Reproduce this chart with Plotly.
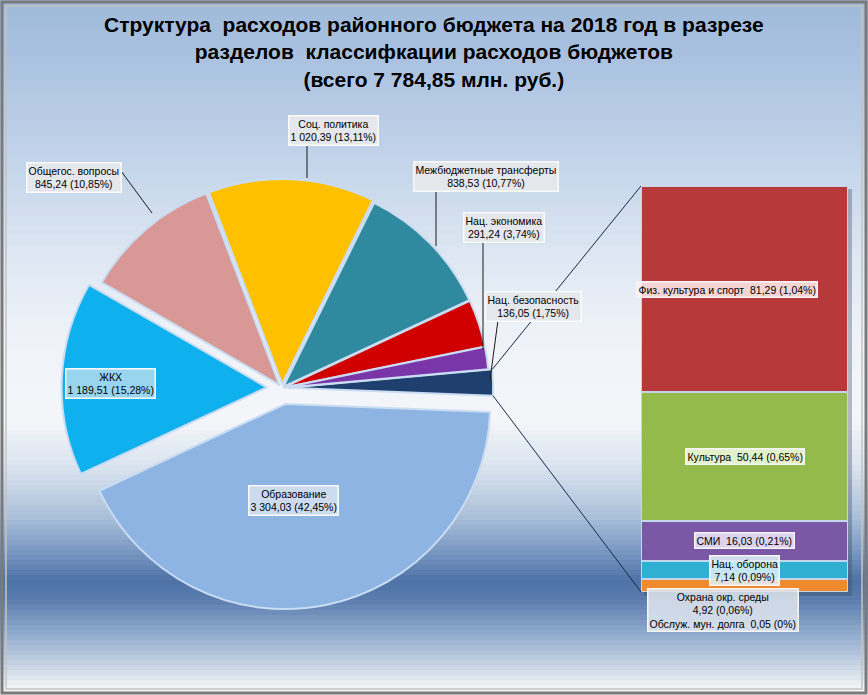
import math
import numpy as np
import plotly.graph_objects as go

W, H = 868, 695

# ---------------- data ----------------
total_budget = 7784.85

pie_labels = ["Образование", "ЖКХ", "Общегос. вопросы", "Соц. политика",
              "Межбюджетные трансферты", "Нац. экономика", "Нац. безопасность"]
pie_values = [3304.03, 1189.51, 845.24, 1020.39, 838.53, 291.24, 136.05]
pie_shares = [42.45, 15.28, 10.85, 13.11, 10.77, 3.74, 1.75]

bar_labels = ["Обслуж. мун. долга", "Охрана окр. среды", "Нац. оборона", "СМИ",
              "Культура", "Физ. культура и спорт"]
bar_values = [0.05, 4.92, 7.14, 16.03, 50.44, 81.29]
bar_shares = [0, 0.06, 0.09, 0.21, 0.65, 1.04]

title_lines = ["Структура  расходов районного бюджета на 2018 год в разрезе",
               "разделов  классифкации расходов бюджетов",
               "(всего 7 784,85 млн. руб.)"]

# ---------------- styles ----------------
FONT_T = "Liberation Sans, Arial, sans-serif"
FONT = "Liberation Sans, Arial, sans-serif"
FS = 10.5
other_color = "#1f3f6e"
pie_colors = ["#8db4e2", "#0fb0ee", "#d79896", "#ffc000", "#2f8aa0", "#d00000", "#7a35a8"]
bar_colors = ["#f79646", "#f08a2c", "#2fb0d2", "#7b58a6", "#94ba4c", "#b8393a"]
other_pull = 0.03
pie_pulls = [0.08, 0.075, 0.02, 0.02, 0.01, 0.01, 0.01]


def fmt_num(v):
    s = f"{v:,.2f}".replace(",", " ").replace(".", ",")
    return s


def fmt_pct(p):
    if p == 0:
        return "0%"
    return f"{p:.2f}".replace(".", ",") + "%"


def px(x):
    return x / W


def py(y):
    return 1 - y / H


other_value = sum(bar_values)
all_values = [other_value] + pie_values
all_colors = [other_color] + pie_colors
all_pulls = [other_pull] + pie_pulls

# pie geometry (pixels)
CX, CY, R = 282, 388, 205
maxp = max(all_pulls)
half = R * (1 + maxp)
dom_x = [px(CX - half), px(CX + half)]
dom_y = [py(CY + half), py(CY - half)]

tot = sum(all_values)
a_other = 360 * other_value / tot
rotation = 92.2 - a_other  # clockwise from 12 o'clock

fig = go.Figure()

# ---------------- background gradient ----------------
stops = [(0, "#9fb9da"), (60, "#aac2e0"), (150, "#c0d2e9"), (250, "#dce6f2"),
         (330, "#eef2f8"), (420, "#f4f6f9"), (470, "#d8e2ee"), (520, "#a6bcd8"),
         (560, "#6d8ebb"), (580, "#4e72a6"), (600, "#5b7dae"), (630, "#8ba6ca"),
         (660, "#bdcce0"), (685, "#eef0f3"), (695, "#f6f6f6")]


def hex2rgb(h):
    h = h.lstrip("#")
    return [int(h[i:i + 2], 16) for i in (0, 2, 4)]


sy = np.array([s[0] for s in stops], float)
sc = np.array([hex2rgb(s[1]) for s in stops], float)
shapes = []
step = 5
for y0 in range(0, H, step):
    ym = y0 + step / 2
    c = [int(round(np.interp(ym, sy, sc[:, k]))) for k in range(3)]
    shapes.append(dict(type="rect", xref="paper", yref="paper",
                       x0=0, x1=1, y0=py(min(y0 + step, H)), y1=py(y0),
                       fillcolor=f"rgb({c[0]},{c[1]},{c[2]})",
                       line=dict(width=0), layer="below"))

# bar geometry (pixels)
BX0, BX1, BY0, BY1 = 641, 848, 186, 592
# bar shadow
shapes.append(dict(type="rect", xref="paper", yref="paper",
                   x0=px(BX0 + 3), x1=px(BX1 + 4), y0=py(BY1 + 4), y1=py(BY0 + 3),
                   fillcolor="rgba(60,70,90,0.35)", line=dict(width=0), layer="below"))

# frame
shapes.append(dict(type="rect", xref="paper", yref="paper",
                   x0=px(2), x1=px(W - 2), y0=py(H - 2), y1=py(2),
                   line=dict(color="#7a7a7a", width=3), fillcolor="rgba(0,0,0,0)"))
shapes.append(dict(type="rect", xref="paper", yref="paper",
                   x0=px(6), x1=px(W - 6), y0=py(H - 6), y1=py(6),
                   line=dict(color="#c4c4c4", width=1.5), fillcolor="rgba(0,0,0,0)"))

# ---------------- pie ----------------
fig.add_trace(go.Pie(
    values=all_values, labels=["Прочие"] + pie_labels,
    marker=dict(colors=all_colors, line=dict(color="#c9dcf2", width=2)),
    pull=all_pulls, sort=False, direction="clockwise", rotation=rotation,
    textinfo="none", hoverinfo="label+value", showlegend=False,
    domain=dict(x=dom_x, y=dom_y)))

# connector lines from "other" slice to bar
th1 = math.radians(rotation)
th2 = math.radians(rotation + a_other)
thm = (th1 + th2) / 2
offx, offy = other_pull * R * math.sin(thm), -other_pull * R * math.cos(thm)
p_up = (CX + offx + R * math.sin(th1), CY + offy - R * math.cos(th1))
p_dn = (CX + offx + R * math.sin(th2), CY + offy - R * math.cos(th2))
for (sx, sy_), (ex, ey) in [(p_up, (BX0, BY0)), (p_dn, (BX0, BY1))]:
    shapes.append(dict(type="line", xref="paper", yref="paper",
                       x0=px(sx), y0=py(sy_), x1=px(ex), y1=py(ey),
                       line=dict(color="#15284a", width=1)))

# leader lines for pie labels (pixels)
leaders = [((121, 171), (152, 213)), ((307, 146), (307, 178)),
           ((436, 191), (436, 246)), ((483, 241), (483, 350)),
           ((498, 320), (490, 380))]
for (x0, y0), (x1, y1) in leaders:
    shapes.append(dict(type="line", xref="paper", yref="paper",
                       x0=px(x0), y0=py(y0), x1=px(x1), y1=py(y1),
                       line=dict(color="#1a1a1a", width=1)))

# ---------------- bar (stacked) ----------------
for lab, v, col in zip(bar_labels, bar_values, bar_colors):
    fig.add_trace(go.Bar(x=[0], y=[v], width=1, name=lab,
                         marker=dict(color=col, line=dict(color="#c3d6ee", width=2)),
                         showlegend=False, hoverinfo="name+y"))

annotations = []
# title
annotations.append(dict(text="<b>" + "<br>".join(title_lines) + "</b>",
                        xref="paper", yref="paper", x=0.5, y=py(11),
                        xanchor="center", yanchor="top", showarrow=False,
                        font=dict(family=FONT_T, size=21, color="#000000")))

# pie label boxes (pixel centres)
pie_label_pos = {
    "Образование": (293, 500, "rgba(225,232,240,0.75)"),
    "ЖКХ": (110, 383, "rgba(200,225,238,0.75)"),
    "Общегос. вопросы": (74, 178, "#e4e7eb"),
    "Соц. политика": (333, 131, "#e4e7eb"),
    "Межбюджетные трансферты": (486, 176, "#e4e7eb"),
    "Нац. экономика": (504, 227, "#e4e7eb"),
    "Нац. безопасность": (533, 306, "#e4e7eb"),
}
for lab, v, s in zip(pie_labels, pie_values, pie_shares):
    x, y, bg = pie_label_pos[lab]
    annotations.append(dict(text=f"{lab}<br>{fmt_num(v)} ({fmt_pct(s)})",
                            xref="paper", yref="paper", x=px(x), y=py(y),
                            xanchor="center", yanchor="middle", showarrow=False,
                            bgcolor=bg, bordercolor="#fafafa", borderwidth=1.5,
                            borderpad=1,
                            font=dict(family=FONT, size=FS, color="#000000")))

# bar labels at segment middles (data coords)
cum = np.cumsum(bar_values)
mids = cum - np.array(bar_values) / 2
bar_bg = {"Физ. культура и спорт": "rgba(255,240,240,0.85)",
          "Культура": "rgba(240,250,225,0.85)",
          "СМИ": "rgba(240,232,250,0.85)",
          "Нац. оборона": "rgba(225,240,248,0.85)"}
for i in (5, 4, 3, 2):
    lab, v, s = bar_labels[i], bar_values[i], bar_shares[i]
    if lab == "Нац. оборона":
        txt = f"{lab}<br>{fmt_num(v)} ({fmt_pct(s)})"
    else:
        txt = f"{lab}  {fmt_num(v)} ({fmt_pct(s)})"
    annotations.append(dict(text=txt, xref="x", yref="y", x=0, y=mids[i],
                            xanchor="center", yanchor="middle", showarrow=False,
                            xshift=-18 if i == 5 else 0,
                            bgcolor=bar_bg[lab], bordercolor="#f5f5f5", borderwidth=1.5,
                            borderpad=1,
                            font=dict(family=FONT, size=FS, color="#000000")))
# combined label below the bar
txt = (f"{bar_labels[1]}<br>{fmt_num(bar_values[1])} ({fmt_pct(bar_shares[1])})<br>"
       f"{bar_labels[0]}  {fmt_num(bar_values[0])} ({fmt_pct(bar_shares[0])})")
annotations.append(dict(text=txt, xref="x", yref="y", x=0, y=0, xshift=-22, yshift=4,
                        xanchor="center", yanchor="top", showarrow=False,
                        bgcolor="rgba(225,230,238,0.85)", bordercolor="#f5f5f5",
                        borderwidth=1.5, borderpad=1,
                        font=dict(family=FONT, size=FS, color="#000000")))

fig.update_layout(
    width=W, height=H, margin=dict(l=0, r=0, t=0, b=0),
    paper_bgcolor="#f4f6f9", plot_bgcolor="rgba(0,0,0,0)",
    barmode="stack", bargap=0,
    xaxis=dict(domain=[px(BX0), px(BX1)], range=[-0.5, 0.5], visible=False,
               fixedrange=True),
    yaxis=dict(domain=[py(BY1), py(BY0)], range=[0, sum(bar_values)], visible=False,
               fixedrange=True),
    shapes=shapes, annotations=annotations, showlegend=False,
)

fig.write_html("out.html", config={"displayModeBar": False},
               post_script="document.body.style.margin='0';document.body.style.overflow='hidden';")
